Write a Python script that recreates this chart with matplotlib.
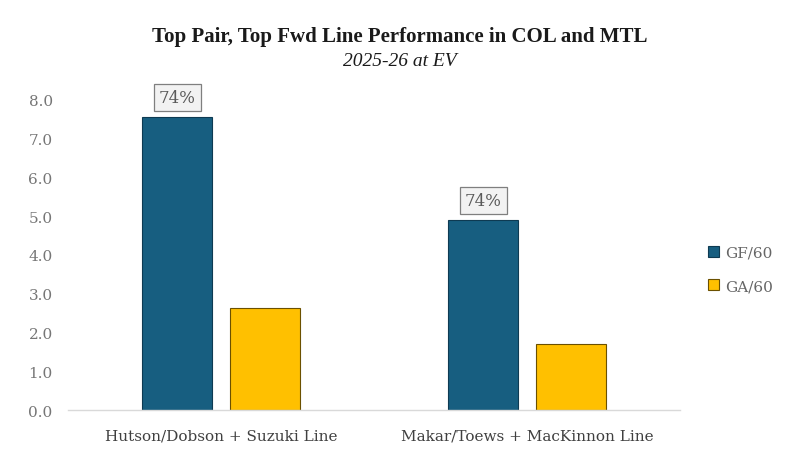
import matplotlib
matplotlib.use("Agg")
import matplotlib.pyplot as plt
import numpy as np

categories = ["Hutson/Dobson + Suzuki Line", "Makar/Toews + MacKinnon Line"]
gf60 = [7.57, 4.89]
ga60 = [2.64, 1.70]
gf_pct_labels = ["74%", "74%"]
yticks = [0, 1, 2, 3, 4, 5, 6, 7, 8]

plt.rcParams['font.family'] = ['DejaVu Serif', 'DejaVu Sans']

fig = plt.figure(figsize=(8, 4.6), dpi=100)
ax = fig.add_axes([0.085, 0.1065, 0.765, 0.674])

x = np.arange(len(categories))
w = 0.229
off = 0.1425
ax.bar(x - off, gf60, w, color="#175e80", edgecolor="#0e3a52", linewidth=0.8, label="GF/60")
ax.bar(x + off, ga60, w, color="#ffc000", edgecolor="#6b5000", linewidth=0.8, label="GA/60")

for xi, v, t in zip(x, gf60, gf_pct_labels):
    ax.annotate(t, (xi - off, v), xytext=(0, 8), textcoords="offset points",
                ha="center", va="bottom", fontsize=12, color="#595959",
                bbox=dict(boxstyle="square,pad=0.3", fc="#f2f2f2", ec="#7f7f7f", lw=0.9))

ax.set_xlim(-0.5, 1.5)
ax.set_ylim(0, 8)
ax.set_yticks(yticks)
ax.set_yticklabels([f"{t:.1f}" for t in yticks])
ax.set_xticks(x)
ax.set_xticklabels(categories)
for s in ["top", "right", "left"]:
    ax.spines[s].set_visible(False)
ax.spines["bottom"].set_color("#d9d9d9")
ax.spines["bottom"].set_linewidth(1.0)
ax.tick_params(axis="both", length=0, labelsize=11)
ax.tick_params(axis="y", pad=11, colors="#767676")
ax.tick_params(axis="x", pad=13, colors="#404040")

leg = fig.legend(loc="center left", bbox_to_anchor=(0.885, 0.412), frameon=False,
                 fontsize=11, handlelength=0.7, handleheight=0.7, handletextpad=0.45,
                 labelspacing=1.25, borderpad=0, borderaxespad=0, labelcolor="#666666")

fig.text(0.5, 0.92, "Top Pair, Top Fwd Line Performance in COL and MTL",
         ha="center", va="center", fontsize=15, fontweight="bold", color="#1a1a1a",
         family=["Liberation Serif", "DejaVu Serif"])
fig.text(0.5, 0.866, "2025-26 at EV", ha="center", va="center", fontsize=14,
         style="italic", color="#1a1a1a", family=["Liberation Serif", "DejaVu Serif"])

fig.savefig("out.png", dpi=100)
